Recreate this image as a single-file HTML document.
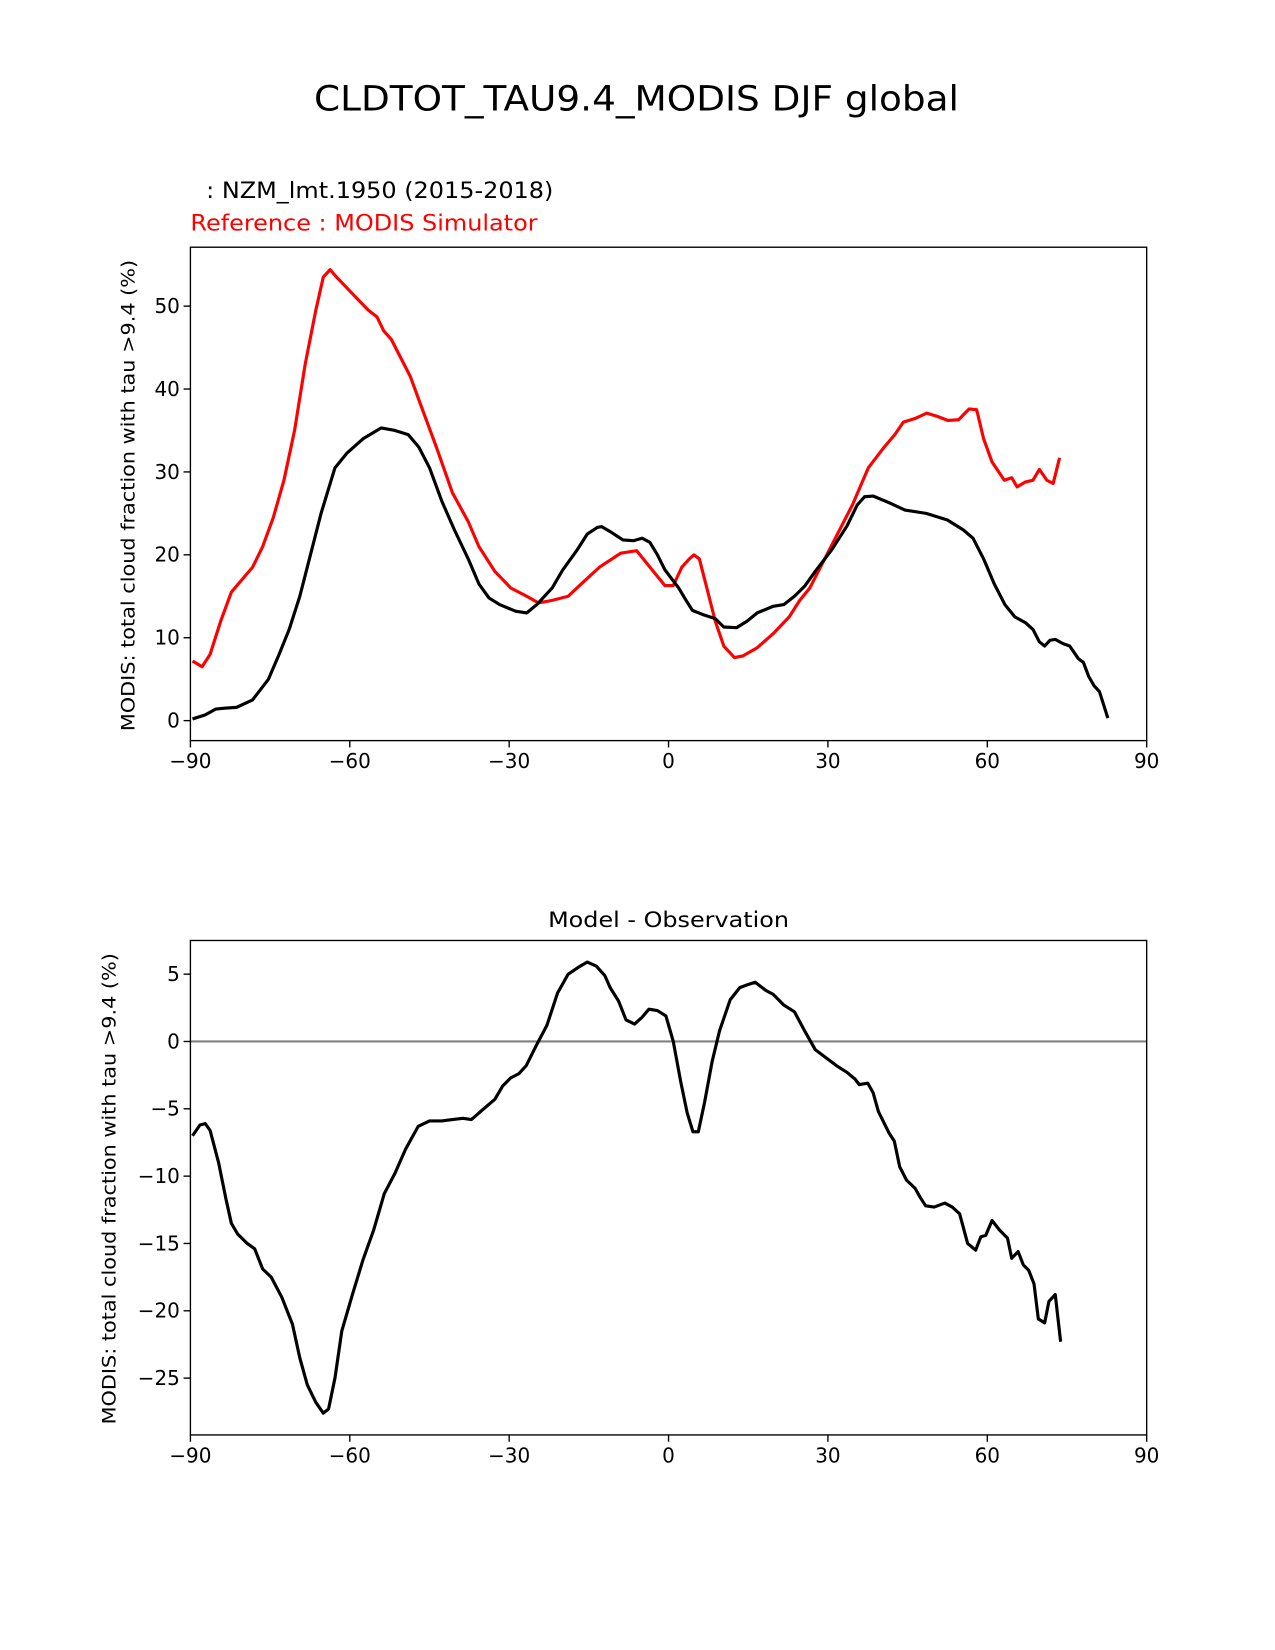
<!DOCTYPE html>
<html><head><meta charset="utf-8">
<style>
html,body{margin:0;padding:0;background:#fff;}
svg{display:block;font-family:"DejaVu Sans","Liberation Sans",sans-serif;}
</style></head>
<body>
<svg id="fig" width="1275" height="1650" viewBox="0 0 1275 1650" xmlns="http://www.w3.org/2000/svg">
<rect width="1275" height="1650" fill="#fff"/>
<g transform="scale(1.052)">
<text x="605" y="105" font-size="33" text-anchor="middle" textLength="613" lengthAdjust="spacingAndGlyphs">CLDTOT_TAU9.4_MODIS DJF global</text>
<text x="196" y="188" font-size="21" textLength="330" lengthAdjust="spacingAndGlyphs">: NZM_lmt.1950 (2015-2018)</text>
<text x="181" y="219" font-size="21" fill="#ff0000" textLength="330" lengthAdjust="spacingAndGlyphs">Reference : MODIS Simulator</text>
<text x="635.5" y="881" font-size="20" text-anchor="middle" textLength="229" lengthAdjust="spacingAndGlyphs">Model - Observation</text>
<g id="top"></g>
<g id="bot"></g>
</g>
</svg>
<script>
const modelLat=[-89.6,-87.2,-85.2,-83.6,-81.3,-78.3,-75.3,-73.3,-71.4,-69.4,-67.4,-65.4,-62.8,-60.5,-57.5,-54.1,-51.5,-49,-47,-45,-42.7,-40.3,-37.7,-35.7,-33.8,-31.8,-28.8,-26.7,-24.8,-21.9,-19.9,-17.3,-15.3,-13.4,-12.6,-11,-8.6,-6.6,-5,-3.5,-2.1,-0.7,1.9,3.3,4.5,6.4,8.8,10.4,12.8,14.8,16.7,19.7,21.7,23.7,25.6,27.6,30.6,33.6,35.5,36.9,38.5,41.5,44.5,48.5,52.5,55.5,57.3,59.3,61.3,63.3,65.2,67.2,68.6,69.8,70.8,71.8,72.8,74.2,75.5,77.1,78.1,79.1,80.1,81.1,82.7];
const modelVal=[0.2,0.7,1.4,1.5,1.6,2.5,5,8,11,15,20,25,30.5,32.3,34,35.3,35,34.5,33,30.5,26.5,23,19.5,16.5,14.8,14,13.2,13,14,16,18.2,20.5,22.5,23.3,23.4,22.8,21.8,21.7,22,21.5,20,18.2,16,14.5,13.3,12.8,12.3,11.3,11.2,12,13,13.8,14,15,16.2,18,20.5,23.5,26,27,27.1,26.3,25.4,25,24.2,23,22,19.5,16.5,14,12.5,11.8,11,9.5,9,9.7,9.8,9.3,9,7.5,7,5.3,4.2,3.5,0.3];
const refLat=[-89.6,-87.8,-86.3,-84.3,-82.3,-80.3,-78.3,-76.4,-74.4,-72.4,-70.4,-68.4,-66.4,-65,-63.7,-62.5,-61,-59.5,-58,-56.5,-54.9,-53.6,-52.2,-50.6,-48.6,-46.6,-43.7,-40.7,-37.7,-35.7,-32.7,-29.7,-26.7,-24.5,-21.9,-18.9,-15.9,-13,-9,-6,-3.1,-0.7,0.9,2.5,3.9,4.8,5.8,7.2,8.8,10.4,12.4,14,16.7,19.7,22.7,24.7,26.6,30.6,34.6,37.6,40.6,42.6,44.2,46.6,48.6,50.6,52.6,54.6,56.6,58,59.3,60.9,63.2,64.6,65.6,67.2,68.6,69.8,71.2,72.4,73.6];
const refVal=[7.2,6.5,8,12,15.5,17,18.5,21,24.5,29,35,43,49.5,53.5,54.4,53.5,52.5,51.5,50.5,49.5,48.7,47,46,44,41.5,38,33,27.5,24,21,18,16,15,14.2,14.5,15,16.8,18.5,20.2,20.5,18.2,16.3,16.3,18.5,19.5,20,19.5,16,12,9,7.6,7.8,8.8,10.5,12.5,14.5,16,21,26,30.5,33,34.5,36,36.5,37.1,36.7,36.2,36.3,37.6,37.5,34,31.2,29,29.3,28.2,28.8,29,30.3,29,28.6,31.7];
const diffLat=[-89.6,-88.2,-87.2,-86.3,-84.7,-83.3,-82.3,-81.1,-79.3,-77.9,-76.4,-74.8,-72.8,-70.8,-69.4,-68,-66.4,-65,-64,-62.8,-61.5,-59.5,-57.5,-55.5,-53.5,-51.5,-49.5,-47.1,-45,-42.7,-40.7,-38.7,-37.1,-34.8,-32.7,-31.2,-29.7,-28.2,-26.8,-24.9,-22.9,-20.9,-18.9,-17,-15.3,-13.6,-12,-11,-9.4,-8,-6.4,-5,-3.7,-2.1,-0.5,0.9,2.3,3.5,4.6,5.6,6.8,8.2,9.6,11.6,13.4,14.8,16.3,18.3,19.7,21.7,23.7,25.6,27.6,29.6,31.6,33.6,35.1,35.9,37.5,38.5,39.5,41.5,42.5,43.5,44.8,46.4,47.4,48.4,50,52,53.4,54.8,56.3,57.8,58.8,59.7,60.9,62.3,63.8,64.6,65.8,66.8,67.8,68.8,69.6,70.8,71.6,72.8,73.8];
const diffVal=[-7,-6.2,-6.1,-6.6,-9,-11.7,-13.5,-14.3,-15,-15.4,-16.9,-17.5,-19,-21,-23.5,-25.5,-26.8,-27.6,-27.3,-25,-21.5,-18.8,-16.2,-14,-11.3,-9.8,-8,-6.3,-5.9,-5.9,-5.8,-5.7,-5.8,-5,-4.3,-3.3,-2.7,-2.4,-1.8,-0.3,1.2,3.6,5,5.5,5.9,5.6,4.9,4,3,1.6,1.3,1.8,2.4,2.3,1.9,0,-3,-5.3,-6.7,-6.7,-4.5,-1.5,0.8,3.1,4,4.2,4.4,3.8,3.5,2.7,2.2,0.8,-0.6,-1.2,-1.8,-2.3,-2.8,-3.2,-3.1,-3.8,-5.2,-6.8,-7.4,-9.3,-10.3,-10.9,-11.6,-12.2,-12.3,-12,-12.3,-12.8,-15,-15.5,-14.5,-14.4,-13.3,-14,-14.6,-16.1,-15.6,-16.6,-17,-18,-20.6,-20.9,-19.3,-18.8,-22.3];
const xTicks=[-90,-60,-30,0,30,60,90];
const topYTicks=[0,10,20,30,40,50];
const botYTicks=[-25,-20,-15,-10,-5,0,5];

const NS="http://www.w3.org/2000/svg";
function mk(parent,tag,attrs){const e=document.createElementNS(NS,tag);for(const k in attrs)e.setAttribute(k,attrs[k]);parent.appendChild(e);return e;}
const L=181,R=1090;
const xs=v=>L+(v+90)/180*(R-L);

function panel(g,top,bottom,ys,yticks,ylabel,labY,labX){
  yticks.forEach(t=>{
    const y=ys(t);
    const tk=mk(g,'line',{x1:L-6.5,x2:L,y1:y,y2:y,stroke:'#000','stroke-width':1.3});
    
    
    const tx=mk(g,'text',{x:L-10,y:y+6.5,'font-size':19,'text-anchor':'end'});
    tx.textContent=String(t).replace('-','\u2212');
    
    
  });
  xTicks.forEach(t=>{
    const x=xs(t);
    const tk=mk(g,'line',{x1:x,x2:x,y1:bottom,y2:bottom+6.5,stroke:'#000','stroke-width':1.3});
    
    
    const tx=mk(g,'text',{x:x,y:bottom+26,'font-size':19,'text-anchor':'middle'});
    tx.textContent=String(t).replace('-','\u2212');
    
    
  });
  const yl=mk(g,'text',{x:labX,y:labY,'font-size':18,'text-anchor':'middle',textLength:448,lengthAdjust:'spacingAndGlyphs',transform:`rotate(-90 ${labX} ${labY})`});
  yl.textContent=ylabel;
  
  
}
function line(g,lat,val,ys,color,name){
  const d=lat.map((a,i)=>(i?'L':'M')+xs(a).toFixed(1)+','+ys(val[i]).toFixed(1)).join(' ');
  const p=mk(g,'path',{d:d,fill:'none',stroke:color,'stroke-width':3,'stroke-linejoin':'round'});
  
  
}
const label="MODIS: total cloud fraction with tau >9.4 (%)";
const gt=document.getElementById('top');
const ysT=v=>685-v*7.88;
panel(gt,235,704,ysT,topYTicks,label,471,128);
line(gt,refLat,refVal,ysT,'#ff0000','reference-line');
line(gt,modelLat,modelVal,ysT,'#000','model-line');
const f1=mk(gt,'rect',{x:L,y:235,width:R-L,height:704-235,fill:'none',stroke:'#000','stroke-width':1.3});


const gb=document.getElementById('bot');
const ysB=v=>990-v*12.8;
panel(gb,894,1364,ysB,botYTicks,label,1130,110);
const z=mk(gb,'line',{x1:L,x2:R,y1:ysB(0),y2:ysB(0),stroke:'#808080','stroke-width':2});


line(gb,diffLat,diffVal,ysB,'#000','difference-line');
const f2=mk(gb,'rect',{x:L,y:894,width:R-L,height:1364-894,fill:'none',stroke:'#000','stroke-width':1.3});


</script>
</body></html>
